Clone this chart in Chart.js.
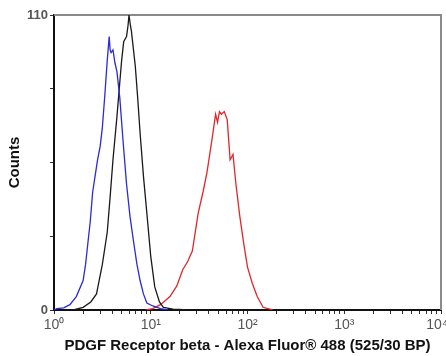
<!DOCTYPE html>
<html>
<head>
<meta charset="utf-8">
<script src="https://cdn.jsdelivr.net/npm/chart.js@4/dist/chart.umd.min.js"></script>
<style>
  html, body { margin: 0; padding: 0; background: #fff; }
  #wrap { width: 446px; height: 356px; }
</style>
</head>
<body>
<div id="wrap"><canvas id="chart"></canvas></div>
<script>
// fluorescence (x) and counts (y)
const blueX = [1.0, 1.07, 1.26, 1.46, 1.7, 2.0, 2.12, 2.24, 2.37, 2.51, 2.82, 3.0, 3.16, 3.35, 3.55, 3.72, 3.8, 3.89, 4.07, 4.27, 4.47, 4.79, 5.2, 5.62, 6.1, 6.61, 7.2, 7.76, 8.4, 9.12, 10.5, 12.6, 15];
const blueY = [0, 0.5, 0.8, 2, 5, 11, 17, 25, 33, 44, 56, 61, 68, 80, 93, 102, 97, 96, 97, 92, 89, 79, 62, 47, 35, 26, 17, 11, 6, 2.6, 1.5, 0.5, 0];

const blackX = [1.58, 2.0, 2.4, 2.75, 3.16, 3.55, 3.8, 4.07, 4.47, 4.79, 5.0, 5.25, 5.62, 5.82, 5.96, 6.17, 6.31, 6.92, 7.3, 7.76, 8.4, 9.12, 10.0, 11.0, 12.3, 13.5, 17, 25];
const blackY = [0, 1, 3, 6, 17, 29, 42, 56, 72, 85, 93, 100, 102, 106, 110, 106, 104, 91, 80, 66, 50, 36, 20, 8.6, 3, 1, 0.3, 0];

const redX = [8.9, 10.5, 12.6, 15.8, 18.6, 21.4, 24, 26.9, 30.9, 34.7, 38, 42.7, 46.8, 49, 51.3, 53.7, 57.5, 61.7, 66.1, 70.8, 75.9, 83.2, 91.2, 100, 112, 126, 145, 182];
const redY = [0, 0.5, 2, 5, 9, 15, 18, 22, 36, 44, 51, 63, 73, 70, 74, 73, 74, 71, 56, 58, 47, 35, 25, 16, 10, 5, 1, 0];

const xTickLabels = ['10\u2070', '10\u00b9', '10\u00b2', '10\u00b3', '10\u2074  '];
const yTickLabels = { 0: '0', 110: '110' };

const xTitle = 'PDGF Receptor beta - Alexa Fluor\u00ae 488 (525/30 BP)';
const yTitle = 'Counts';

function toPoints(xs, ys) {
  return xs.map((x, i) => ({ x: x, y: ys[i] }));
}

function series(xs, ys, color) {
  return {
    data: toPoints(xs, ys),
    borderColor: color,
    borderWidth: 1.3,
    pointRadius: 0,
    tension: 0,
    fill: false
  };
}

// gray top / right frame lines
const framePlugin = {
  id: 'frame',
  beforeDatasetsDraw(chart) {
    const { ctx, chartArea: a } = chart;
    ctx.save();
    ctx.strokeStyle = '#8a8a8a';
    ctx.lineWidth = 2;
    ctx.beginPath();
    ctx.moveTo(a.left, a.top);
    ctx.lineTo(a.right, a.top);
    ctx.lineTo(a.right, a.bottom);
    ctx.stroke();
    ctx.restore();
  }
};

new Chart(document.getElementById('chart'), {
  type: 'line',
  data: {
    datasets: [
      series(blueX, blueY, '#2a2ad6'),
      series(blackX, blackY, '#1a1a1a'),
      series(redX, redY, '#e0262a')
    ]
  },
  options: {
    responsive: true,
    maintainAspectRatio: false,
    animation: false,
    layout: { padding: { top: 15, right: 5, left: 0, bottom: 0 } },
    plugins: { legend: { display: false }, tooltip: { enabled: false } },
    scales: {
      x: {
        type: 'logarithmic',
        min: 1,
        max: 10000,
        afterBuildTicks(scale) {
          const ticks = [];
          for (let d = 0; d < 4; d++) {
            for (let m = 1; m < 10; m++) ticks.push({ value: m * Math.pow(10, d) });
          }
          ticks.push({ value: 10000 });
          scale.ticks = ticks;
        },
        afterFit(scale) {
          scale.height = 46;
          scale.paddingLeft = 0;
          scale.paddingRight = 0;
        },
        border: { color: '#111', width: 2 },
        grid: { drawOnChartArea: false, tickLength: 4, color: '#333' },
        ticks: {
          autoSkip: false,
          maxRotation: 0,
          padding: 3,
          color: '#555',
          font: { family: 'Liberation Sans', size: 14 },
          callback(v) {
            const e = Math.round(Math.log10(v));
            return Math.abs(Math.pow(10, e) - v) < 1e-6 ? xTickLabels[e] : '';
          }
        },
        title: {
          display: true,
          text: xTitle,
          color: '#111',
          padding: { top: 0, bottom: 1 },
          font: { family: 'Liberation Sans', size: 15, weight: 'bold' }
        }
      },
      y: {
        min: 0,
        max: 110,
        afterBuildTicks(scale) {
          scale.ticks = [0, 27.5, 55, 82.5, 110].map(v => ({ value: v }));
        },
        afterFit(scale) {
          scale.width = 54;
        },
        border: { color: '#111', width: 2 },
        grid: { drawOnChartArea: false, tickLength: 4, color: '#333' },
        ticks: {
          padding: 2,
          color: '#555',
          font: { family: 'Liberation Sans', size: 13, weight: 'bold' },
          callback(v) { return yTickLabels[v] || ''; }
        },
        title: {
          display: true,
          text: yTitle,
          color: '#111',
          padding: { top: 6, bottom: 0 },
          font: { family: 'Liberation Sans', size: 15, weight: 'bold' }
        }
      }
    }
  },
  plugins: [framePlugin]
});
</script>
</body>
</html>
